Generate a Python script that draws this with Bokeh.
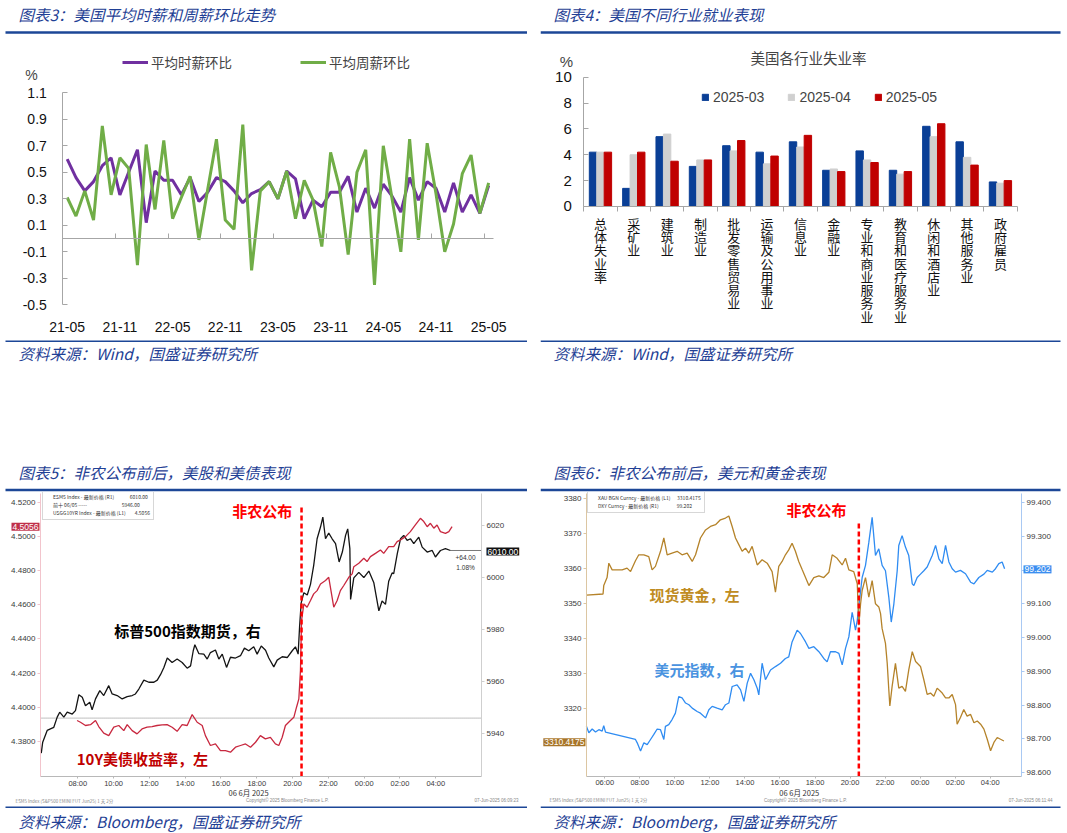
import numpy as np
from bokeh.plotting import figure
from bokeh.models import (Range1d, LinearAxis, FixedTicker, Label, Legend, LegendItem,
                          NumeralTickFormatter, Spacer)
from bokeh.layouts import column, row
from bokeh.embed import file_html
from bokeh.resources import INLINE
from bokeh.core.properties import value

CJK = "Noto Sans CJK SC"
LAT = "Liberation Sans"
NARROW = "'Liberation Sans Narrow', 'Liberation Sans', sans-serif"
HEAD_BLUE = "#1f3f95"
RULE_BLUE = "#1c4797"
WL, WR = 527, 522

# ---------------- data: chart 3 (monthly, 21-05 .. 25-05) ----------------
wage_tick_labels = ["21-05", "21-11", "22-05", "22-11", "23-05", "23-11", "24-05", "24-11", "25-05"]
hourly_mom = [0.60, 0.46, 0.36, 0.43, 0.55, 0.61, 0.33, 0.50, 0.67, 0.12, 0.51, 0.44,
              0.44, 0.33, 0.46, 0.28, 0.35, 0.46, 0.43, 0.36, 0.27, 0.34, 0.37, 0.43, 0.30,
              0.51, 0.45, 0.15, 0.29, 0.24, 0.35, 0.35, 0.47, 0.20, 0.38, 0.23, 0.41, 0.32,
              0.20, 0.46, 0.29, 0.43, 0.38, 0.20, 0.42, 0.20, 0.33, 0.19, 0.40]
weekly_mom = [0.31, 0.17, 0.36, 0.14, 0.85, 0.33, 0.61, 0.53, -0.20, 0.71, 0.22, 0.74,
              0.15, 0.31, 0.47, -0.01, 0.37, 0.75, 0.14, 0.07, 0.86, -0.24, 0.36, 0.43, 0.30,
              0.51, 0.15, 0.44, 0.29, -0.06, 0.65, 0.39, -0.12, 0.50, 0.67, -0.35, 0.70, 0.30,
              -0.10, 0.75, -0.01, 0.72, 0.34, -0.10, 0.11, 0.49, 0.63, 0.19, 0.42]

# ---------------- data: chart 4 ----------------
industries = ["总体失业率", "采矿业", "建筑业", "制造业", "批发零售贸易业", "运输及公用事业", "信息业",
              "金融业", "专业和商业服务业", "教育和医疗服务业", "休闲和酒店业", "其他服务业", "政府雇员"]
u_2025_03 = [4.2, 1.4, 5.4, 3.1, 4.7, 4.2, 5.0, 2.8, 4.3, 2.8, 6.2, 5.0, 1.9]
u_2025_04 = [4.2, 4.0, 5.6, 3.6, 4.3, 3.3, 4.6, 2.9, 3.6, 2.5, 5.4, 3.8, 1.8]
u_2025_05 = [4.2, 4.2, 3.5, 3.6, 5.1, 3.9, 5.5, 2.7, 3.4, 2.7, 6.4, 3.2, 2.0]

# ---------------- data: chart 5 (hours since 06-Jun 00:00, Beijing time) ----------------
nfp_hour = 20.5
spx_fut = [(5.96, 5932.6), (6.04, 5936.8), (6.29, 5941.3), (6.47, 5941.9), (6.66, 5942.5), (6.85, 5946.4),
           (6.99, 5948.3), (7.22, 5946.4), (7.41, 5948.3), (7.69, 5947.6), (7.87, 5948.9), (8.06, 5955.0),
           (8.25, 5954.0), (8.43, 5950.8), (8.67, 5952.1), (8.80, 5949.2), (8.99, 5953.4), (9.23, 5956.6),
           (9.45, 5954.7), (9.73, 5958.5), (9.92, 5955.3), (10.20, 5954.7), (10.48, 5953.4), (10.76, 5954.3),
           (11.04, 5954.7), (11.22, 5955.3), (11.41, 5957.2), (11.69, 5960.6), (11.97, 5959.8), (12.25, 5959.8),
           (12.44, 5960.6), (12.62, 5962.7), (12.81, 5965.5), (13.00, 5969.1), (13.27, 5967.4), (13.55, 5968.7),
           (13.83, 5967.4), (14.11, 5965.2), (14.30, 5966.1), (14.45, 5971.9), (14.54, 5974.2), (14.76, 5970.8),
           (15.04, 5970.6), (15.23, 5968.7), (15.41, 5971.2), (15.69, 5972.2), (15.88, 5968.7), (16.07, 5970.6),
           (16.31, 5965.5), (16.53, 5969.4), (16.81, 5969.1), (17.09, 5970.0), (17.31, 5972.9), (17.55, 5971.9),
           (17.83, 5973.4), (18.02, 5970.6), (18.25, 5973.7), (18.49, 5972.1), (18.67, 5969.1), (18.95, 5965.7),
           (19.14, 5968.3), (19.42, 5969.6), (19.70, 5969.3), (19.98, 5971.9), (20.16, 5973.4), (20.31, 5970.6),
           (20.39, 5981.0), (20.48, 5990.3), (20.63, 5994.2), (20.82, 5993.3), (21.00, 5997.4), (21.18, 6004.7),
           (21.37, 6014.9), (21.56, 6019.4), (21.69, 6023.2), (21.84, 6014.9), (22.02, 6017.1), (22.21, 6014.9),
           (22.40, 6013.0), (22.60, 6006.0), (22.78, 6009.8), (22.96, 6016.2), (23.08, 6018.7), (23.20, 6011.1),
           (23.24, 5991.6), (23.42, 5999.9), (23.70, 6002.0), (23.98, 6000.0), (24.26, 6002.5), (24.54, 5998.0),
           (24.82, 5987.2), (25.00, 5991.0), (25.19, 5989.7), (25.37, 5998.6), (25.56, 6001.8), (25.65, 6001.5),
           (25.85, 6009.2), (26.03, 6014.9), (26.21, 6016.2), (26.40, 6014.3), (26.59, 6014.9), (26.77, 6013.0),
           (27.05, 6015.5), (27.24, 6011.7), (27.52, 6009.8), (27.80, 6010.4), (27.98, 6007.9), (28.26, 6010.4),
           (28.54, 6011.1), (28.82, 6010.4)]
spx_prev_close = 5946.0
us10y = [(7.96, 4.3923), (8.15, 4.3913), (8.43, 4.3894), (8.71, 4.3899), (8.99, 4.3923), (9.17, 4.3888),
         (9.45, 4.3849), (9.73, 4.3835), (10.01, 4.3884), (10.29, 4.3894), (10.57, 4.3864), (10.76, 4.3899),
         (11.04, 4.3864), (11.31, 4.3845), (11.59, 4.3874), (11.87, 4.3884), (12.15, 4.3888), (12.43, 4.3894),
         (12.71, 4.3898), (12.99, 4.3899), (13.27, 4.3884), (13.55, 4.3860), (13.83, 4.3899), (14.11, 4.3894),
         (14.39, 4.3958), (14.67, 4.3913), (14.95, 4.3894), (15.13, 4.3835), (15.41, 4.3777), (15.69, 4.3786),
         (15.97, 4.3747), (16.25, 4.3747), (16.53, 4.3738), (16.81, 4.3767), (17.09, 4.3777), (17.37, 4.3786),
         (17.65, 4.3767), (17.93, 4.3796), (18.20, 4.3835), (18.48, 4.3816), (18.76, 4.3825), (19.04, 4.3786),
         (19.23, 4.3777), (19.42, 4.3825), (19.60, 4.3894), (19.88, 4.3923), (20.07, 4.3942), (20.22, 4.4001),
         (20.35, 4.4050), (20.44, 4.4215), (20.50, 4.4508), (20.63, 4.4605), (20.81, 4.4586), (21.00, 4.4625),
         (21.18, 4.4664), (21.37, 4.4683), (21.56, 4.4722), (21.84, 4.4742), (22.02, 4.4761), (22.30, 4.4586),
         (22.49, 4.4625), (22.67, 4.4683), (22.86, 4.4713), (23.14, 4.4761), (23.33, 4.4781), (23.42, 4.4823),
         (23.70, 4.4843), (23.98, 4.4872), (24.16, 4.4853), (24.35, 4.4882), (24.63, 4.4901), (24.91, 4.4921),
         (25.09, 4.4901), (25.37, 4.4940), (25.65, 4.4940), (25.84, 4.4970), (26.03, 4.4980), (26.31, 4.4999),
         (26.58, 4.5028), (26.86, 4.5067), (27.14, 4.5106), (27.33, 4.5087), (27.52, 4.5057), (27.70, 4.5077),
         (27.89, 4.5048), (28.07, 4.5067), (28.26, 4.5028), (28.54, 4.5018), (28.73, 4.5028), (28.91, 4.5057)]

# ---------------- data: chart 6 ----------------
gold_spot = [(4.95, 3352.5), (5.90, 3352.8), (5.94, 3355.2), (6.13, 3357.5), (6.23, 3361.6), (6.42, 3359.7),
             (6.70, 3359.7), (6.99, 3359.7), (7.27, 3360.2), (7.47, 3359.2), (7.75, 3362.3), (7.94, 3364.0),
             (8.23, 3364.0), (8.51, 3363.5), (8.70, 3359.7), (8.89, 3360.7), (9.18, 3365.0), (9.37, 3368.8),
             (9.56, 3364.0), (9.84, 3364.5), (10.13, 3365.0), (10.41, 3364.0), (10.70, 3364.5), (10.99, 3362.1),
             (11.18, 3364.0), (11.46, 3368.8), (11.75, 3371.1), (12.03, 3372.1), (12.32, 3372.6), (12.60, 3374.0),
             (12.89, 3374.5), (13.08, 3375.1), (13.27, 3372.1), (13.46, 3368.8), (13.65, 3366.9), (13.84, 3365.0),
             (14.03, 3365.9), (14.22, 3364.5), (14.41, 3366.4), (14.70, 3361.1), (14.98, 3362.6), (15.27, 3361.6),
             (15.55, 3359.2), (15.74, 3353.3), (15.93, 3360.7), (16.12, 3362.1), (16.31, 3364.0), (16.50, 3365.4),
             (16.69, 3367.3), (16.88, 3365.0), (17.07, 3362.1), (17.27, 3359.7), (17.65, 3355.2), (17.93, 3357.5),
             (18.22, 3358.0), (18.50, 3357.5), (18.79, 3359.0), (18.98, 3364.0), (19.26, 3363.0), (19.55, 3361.1),
             (19.74, 3363.0), (19.93, 3359.7), (20.21, 3359.2), (20.41, 3355.7), (20.50, 3343.9), (20.60, 3350.0),
             (20.69, 3353.8), (20.88, 3357.5), (21.07, 3351.9), (21.26, 3356.6), (21.45, 3350.0), (21.64, 3349.1),
             (21.74, 3347.2), (21.83, 3342.9), (22.02, 3338.7), (22.12, 3333.0), (22.21, 3325.5), (22.27, 3320.8),
             (22.40, 3326.4), (22.59, 3333.0), (22.78, 3325.9), (22.97, 3326.4), (23.16, 3325.0), (23.35, 3331.1),
             (23.55, 3336.3), (23.74, 3333.5), (24.02, 3332.1), (24.21, 3328.3), (24.40, 3324.1), (24.59, 3324.5),
             (24.78, 3323.6), (24.97, 3325.9), (25.26, 3324.5), (25.45, 3323.1), (25.64, 3323.1), (25.83, 3324.1),
             (26.02, 3321.2), (26.11, 3315.6), (26.30, 3317.5), (26.49, 3319.8), (26.68, 3317.9), (26.88, 3318.4),
             (27.07, 3316.0), (27.26, 3316.5), (27.45, 3315.6), (27.64, 3314.2), (27.83, 3311.3), (28.02, 3308.0),
             (28.21, 3310.4), (28.40, 3311.8), (28.59, 3311.3), (28.78, 3310.8)]
dxy_index = [(4.95, 98.737), (5.09, 98.718), (5.28, 98.729), (5.47, 98.720), (5.66, 98.727), (5.85, 98.723),
             (5.94, 98.739), (6.04, 98.720), (7.75, 98.698), (7.85, 98.688), (8.04, 98.664), (8.23, 98.688),
             (8.42, 98.683), (8.61, 98.698), (8.80, 98.713), (8.99, 98.729), (9.18, 98.727), (9.37, 98.698),
             (9.46, 98.737), (9.65, 98.742), (9.84, 98.757), (10.03, 98.776), (10.22, 98.825), (10.41, 98.821),
             (10.61, 98.806), (10.80, 98.801), (10.99, 98.791), (11.27, 98.781), (11.46, 98.776), (11.75, 98.762),
             (11.94, 98.786), (12.13, 98.796), (12.41, 98.791), (12.70, 98.786), (12.89, 98.801), (13.08, 98.806),
             (13.27, 98.855), (13.55, 98.860), (13.75, 98.845), (13.94, 98.811), (14.13, 98.865), (14.32, 98.894),
             (14.51, 98.875), (14.70, 98.850), (14.79, 98.830), (14.98, 98.924), (15.17, 98.875), (15.46, 98.904),
             (15.74, 98.914), (16.03, 98.924), (16.31, 98.938), (16.50, 98.943), (16.69, 98.987), (16.98, 99.022),
             (17.17, 99.012), (17.46, 98.987), (17.65, 98.968), (17.93, 98.973), (18.22, 98.958), (18.50, 98.938),
             (18.69, 98.928), (18.88, 98.958), (19.17, 98.958), (19.36, 98.953), (19.55, 98.919), (19.74, 98.968),
             (19.93, 99.002), (20.12, 99.075), (20.31, 99.022), (20.41, 99.051), (20.56, 99.120), (20.69, 99.178),
             (20.88, 99.214), (21.07, 99.282), (21.26, 99.356), (21.45, 99.243), (21.64, 99.263), (21.83, 99.214),
             (22.02, 99.198), (22.21, 99.120), (22.35, 99.046), (22.50, 99.100), (22.69, 99.198), (22.78, 99.273),
             (22.97, 99.302), (23.16, 99.268), (23.35, 99.243), (23.55, 99.159), (23.64, 99.154), (23.83, 99.178),
             (24.02, 99.188), (24.21, 99.198), (24.40, 99.209), (24.69, 99.243), (24.88, 99.273), (25.07, 99.233),
             (25.26, 99.219), (25.45, 99.273), (25.64, 99.224), (25.83, 99.204), (26.02, 99.194), (26.30, 99.199),
             (26.59, 99.189), (26.88, 99.164), (27.07, 99.159), (27.35, 99.178), (27.64, 99.188), (27.83, 99.199),
             (28.12, 99.194), (28.30, 99.204), (28.49, 99.219), (28.68, 99.224), (28.82, 99.204)]


# ---------------- helpers ----------------
def base_fig(w, h, xr, yr):
    p = figure(width=w, height=h, x_range=Range1d(*xr), y_range=Range1d(*yr),
               output_backend="svg", toolbar_location=None, min_border=0, title=None)
    p.grid.visible = False
    p.outline_line_color = None
    return p


def strip(w, h):
    p = figure(width=w, height=h, x_range=Range1d(0, w), y_range=Range1d(0, h),
               x_axis_type=None, y_axis_type=None, output_backend="svg",
               toolbar_location=None, min_border=0, title=None)
    p.outline_line_color = None
    return p


def header(text, w, h, tx, text_top, rule_top, r0, r1):
    p = strip(w, h)
    p.add_layout(Label(x=tx, y=h - text_top, text=text, text_font=CJK, text_font_style="italic",
                       text_font_size="15.5px", text_color=HEAD_BLUE, text_baseline="middle"))
    p.segment(x0=[r0], y0=[h - rule_top], x1=[r1], y1=[h - rule_top], line_color=RULE_BLUE, line_width=2.6)
    return p


def source(text, w, h, tx, rule_top, text_top, r0, r1):
    p = strip(w, h)
    p.segment(x0=[r0], y0=[h - rule_top], x1=[r1], y1=[h - rule_top], line_color=RULE_BLUE, line_width=1.6)
    p.add_layout(Label(x=tx, y=h - text_top, text=text, text_font=CJK, text_font_style="italic",
                       text_font_size="15.5px", text_color=HEAD_BLUE, text_baseline="middle"))
    return p


# ---------------- chart 3 ----------------
x_month = np.arange(len(hourly_mom))
p3 = base_fig(WL, 304, (-7.597, 52.426), (-0.754, 1.540))
ya = p3.yaxis[0]
ya.fixed_location = -0.5
ya.bounds = (-0.5, 1.1)
ya.ticker = FixedTicker(ticks=[-0.5, -0.3, -0.1, 0.1, 0.3, 0.5, 0.7, 0.9, 1.1])
ya.formatter = NumeralTickFormatter(format="0.0")
ya.axis_line_color = "#a6a6a6"
ya.major_tick_line_color = "#a6a6a6"
ya.major_tick_in = 5
ya.major_tick_out = 0
ya.minor_tick_line_color = None
ya.major_label_standoff = 16
ya.major_label_text_font = LAT
ya.major_label_text_font_size = "14px"
ya.major_label_text_color = "#111111"
xa = p3.xaxis[0]
xa.fixed_location = -0.5
xa.ticker = FixedTicker(ticks=list(range(0, 49, 6)))
xa.major_label_overrides = {6 * i: lab for i, lab in enumerate(wage_tick_labels)}
xa.axis_line_color = None
xa.major_tick_line_color = None
xa.minor_tick_line_color = None
xa.major_label_standoff = 11
xa.major_label_text_font = LAT
xa.major_label_text_font_size = "14px"
xa.major_label_text_color = "#111111"
zero_ticks = [6 * i - 0.5 for i in range(9)]
zax = LinearAxis(fixed_location=0, bounds=(-0.5, 48.5), ticker=FixedTicker(ticks=zero_ticks),
                 major_label_overrides={t: "" for t in zero_ticks},
                 major_tick_in=5, major_tick_out=0, axis_line_color="#a6a6a6",
                 major_tick_line_color="#a6a6a6", minor_tick_line_color=None)
p3.add_layout(zax, "below")
r_h = p3.line(x_month, hourly_mom, line_color="#7030a0", line_width=3)
r_w = p3.line(x_month, weekly_mom, line_color="#70ad47", line_width=3)
leg3 = Legend(items=[LegendItem(label="平均时薪环比", renderers=[r_h]),
                     LegendItem(label="平均周薪环比", renderers=[r_w])],
              orientation="horizontal", location=(122, 266), glyph_width=26, glyph_height=10,
              label_standoff=3, spacing=68, padding=0, margin=0, border_line_color=None,
              background_fill_alpha=0, label_text_font=CJK, label_text_font_size="13.5px")
p3.add_layout(leg3)
p3.add_layout(Label(x=-4.07, y=1.238, text="%", text_font=LAT, text_font_size="14px",
                    text_align="center", text_baseline="middle"))

# ---------------- chart 4 ----------------
px_per_u4 = 12.93
cat_x = np.arange(len(industries)) + 0.5
bw = 0.223
p4 = base_fig(WR, 304, (-1.299, 14.362), (-10.21, 13.30))
ya4 = p4.yaxis[0]
ya4.fixed_location = 0
ya4.bounds = (0, 10)
ya4.ticker = FixedTicker(ticks=[0, 2, 4, 6, 8, 10])
ya4.axis_line_color = "#a6a6a6"
ya4.major_tick_line_color = "#a6a6a6"
ya4.major_tick_in = 5
ya4.major_tick_out = 0
ya4.minor_tick_line_color = None
ya4.major_label_standoff = 12
ya4.major_label_text_font = LAT
ya4.major_label_text_font_size = "15px"
ya4.major_label_text_color = "#111111"
xa4 = p4.xaxis[0]
xa4.fixed_location = 0
xa4.bounds = (0, len(industries))
xa4.ticker = FixedTicker(ticks=[], minor_ticks=list(range(len(industries) + 1)))
xa4.axis_line_color = "#a6a6a6"
xa4.major_tick_line_color = None
xa4.minor_tick_line_color = "#a6a6a6"
xa4.minor_tick_out = 5
xa4.minor_tick_in = 0
b1 = p4.vbar(x=cat_x - bw, top=u_2025_03, width=bw, fill_color="#0a3f96", line_color="#0a3f96")
b2 = p4.vbar(x=cat_x, top=u_2025_04, width=bw, fill_color="#d0d0d0", line_color="#d0d0d0")
b3 = p4.vbar(x=cat_x + bw, top=u_2025_05, width=bw, fill_color="#c00000", line_color="#c00000")
# stacked (vertical) category names under the axis
ch_x, ch_y, ch_t = [], [], []
for c, name in zip(cat_x, industries):
    for k, ch in enumerate(name):
        ch_x.append(c)
        ch_y.append(-(16.7 + 13.3 * k) / px_per_u4)
        ch_t.append(ch)
p4.text(x=ch_x, y=ch_y, text=ch_t, text_font=value(CJK), text_font_size=value("13px"),
        text_align="center", text_baseline="middle", text_color="#111111")
leg4 = Legend(items=[LegendItem(label="2025-03", renderers=[b1]),
                     LegendItem(label="2025-04", renderers=[b2]),
                     LegendItem(label="2025-05", renderers=[b3])],
              orientation="horizontal", location=(161, 233), glyph_width=8, glyph_height=8,
              label_standoff=4, spacing=23, padding=0, margin=0, border_line_color=None,
              background_fill_alpha=0, label_text_font=LAT, label_text_font_size="14px")
p4.add_layout(leg4)
p4.add_layout(Label(x=6.74, y=11.55, text="美国各行业失业率", text_font=CJK, text_font_size="14.5px",
                    text_align="center", text_baseline="middle"))
p4.add_layout(Label(x=-0.52, y=11.24, text="%", text_font=LAT, text_font_size="15px",
                    text_align="center", text_baseline="middle"))


# ---------------- Bloomberg-style charts ----------------
def style_axis(ax, color, size="8px", tick_out=3, standoff=2):
    ax.axis_line_color = color
    ax.major_tick_line_color = color
    ax.major_tick_out = tick_out
    ax.major_tick_in = 0
    ax.minor_tick_line_color = None
    ax.major_label_standoff = standoff
    ax.major_label_text_font = NARROW
    ax.major_label_text_font_size = size
    ax.major_label_text_color = "#3a3a3a"


def bbg_axes(p, xb, yb, extra_name, eb, lticks, lfmt, lcol, rticks, rfmt, rcol, tticks):
    la = p.yaxis[0]
    la.fixed_location = xb[0]
    la.bounds = yb
    la.ticker = FixedTicker(ticks=lticks)
    la.formatter = NumeralTickFormatter(format=lfmt)
    style_axis(la, lcol)
    ra = LinearAxis(y_range_name=extra_name, fixed_location=xb[1], bounds=eb,
                    ticker=FixedTicker(ticks=rticks), formatter=NumeralTickFormatter(format=rfmt))
    style_axis(ra, rcol)
    p.add_layout(ra, "right")
    ba = p.xaxis[0]
    ba.fixed_location = yb[0]
    ba.bounds = xb
    ba.ticker = FixedTicker(ticks=tticks)
    ba.major_label_overrides = {t: "%02d:00" % (t % 24) for t in tticks}
    style_axis(ba, "#b8b8b8", "7.5px", tick_out=2, standoff=0)


def tiny_legend(p, entries, loc):
    items = []
    for lab_text, col in entries:
        r = p.scatter([], [], marker="square", color=col)
        items.append(LegendItem(label=lab_text, renderers=[r]))
    leg = Legend(items=items, location=loc, margin=0, padding=3, glyph_width=5, glyph_height=5,
                 label_height=6, spacing=1, label_standoff=2, border_line_color="#b0b0b0",
                 background_fill_color="white", background_fill_alpha=0.9, label_text_font=CJK,
                 label_text_font_size="5px", label_text_color="#333333")
    p.add_layout(leg)


def lab(p, x, y, text, size, color, bold=False, align="center", font=CJK, **kw):
    p.add_layout(Label(x=x, y=y, text=text, text_font=font, text_font_style="bold" if bold else "normal",
                       text_font_size=size, text_color=color, text_align=align, text_baseline="middle", **kw))


NB = "\u00a0"

# chart 5
xb5 = (5.916, 30.553)       # plot-area time bounds
yb5 = (4.3595, 4.5251)      # plot-area yield bounds
sb5 = (5923.6, 6032.3)      # plot-area S&P bounds
p5 = base_fig(WL, 313, (3.682, 33.124), (4.3426, 4.5257))
p5.extra_y_ranges = {"sp": Range1d(5912.47, 6032.67)}
bbg_axes(p5, xb5, yb5, "sp", sb5, [4.38, 4.40, 4.42, 4.44, 4.46, 4.48, 4.50, 4.52], "0.0000", "#f2c4cc",
         [5940, 5960, 5980, 6000, 6020], "0", "#cfcfcf", list(range(8, 29, 2)))
sp_h, sp_v = zip(*spx_fut)
y_h, y_v = zip(*us10y)
p5.segment(x0=[xb5[0]], y0=[spx_prev_close], x1=[xb5[1]], y1=[spx_prev_close], y_range_name="sp",
           line_color="#9a9a9a", line_dash="1 1", line_width=1.2)
p5.segment(x0=[sp_h[-1]], y0=[sp_v[-1]], x1=[xb5[1]], y1=[sp_v[-1]], y_range_name="sp",
           line_color="#555555", line_width=0.8)
p5.line(sp_h, sp_v, y_range_name="sp", line_color="#141414", line_width=1.3)
p5.line(y_h, y_v, line_color="#c8283f", line_width=1.3)
p5.segment(x0=[nfp_hour], y0=[yb5[0]], x1=[nfp_hour], y1=[4.518], line_color="#ff0000",
           line_width=2.5, line_dash="5 3")
tiny_legend(p5, [("ESM5 Index - 最新价格 (R1)" + NB * 14 + "6010.00", "#141414"),
                 ("前十 06/05 -----" + NB * 31 + "5946.00", "#141414"),
                 ("USGG10YR Index - 最新价格 (L1)" + NB * 8 + "4.5056", "#c8283f")], (42, 285))
lab(p5, 18.3, 4.5151, "非农公布", "15px", "#ff0000", bold=True)
lab(p5, 14.13, 4.445, "标普500指数期货，右", "15px", "#000000", bold=True)
lab(p5, 11.61, 4.370, "10Y美债收益率，左", "15px", "#c00000", bold=True)
lab(p5, xb5[0], 4.5056, "4.5056", "8.5px", "white", align="right", font=NARROW, x_offset=-1,
    background_fill_color="#c0304a", padding=1)
lab(p5, xb5[1], 6010.0, "6010.00", "8.5px", "white", align="left", font=NARROW, x_offset=5,
    y_range_name="sp", background_fill_color="#111111", padding=1)
lab(p5, 29.1, 6007.6, "+64.00", "6.5px", "#333333", align="left", font=NARROW, y_range_name="sp")
lab(p5, 29.15, 6003.8, "1.08%", "6.5px", "#333333", align="left", font=NARROW, y_range_name="sp")
lab(p5, 17.54, 4.3502, "06 6月 2025", "7.5px", "#333333")
lab(p5, 4.52, 4.3455, "ESM5 Index (S&P500 EMINI FUT Jun25) 1 天 2分", "4.5px", "#888888", align="left")
lab(p5, 19.71, 4.3455, "Copyright© 2025 Bloomberg Finance L.P.", "4.5px", "#888888", font=LAT)
lab(p5, 32.62, 4.3455, "07-Jun-2025 06:09:23", "4.5px", "#888888", align="right", font=LAT)

# chart 6
xb6 = (4.955, 29.784)
yb6 = (3300.66, 3381.51)
db6 = (98.5883, 99.4268)
p6 = base_fig(WR, 313, (2.330, 32.125), (3292.37, 3381.8))
p6.extra_y_ranges = {"dxy": Range1d(98.5024, 99.4298)}
bbg_axes(p6, xb6, yb6, "dxy", db6, [3320, 3330, 3340, 3350, 3360, 3370, 3380], "0", "#dcc6a2",
         [98.6, 98.7, 98.8, 98.9, 99.0, 99.1, 99.2, 99.3, 99.4], "0.000", "#a9c9f3", list(range(6, 29, 2)))
g_h, g_v = zip(*gold_spot)
d_h, d_v = zip(*dxy_index)
p6.line(d_h, d_v, y_range_name="dxy", line_color="#2f8cf2", line_width=1.3)
p6.line(g_h, g_v, line_color="#b5832a", line_width=1.3)
p6.segment(x0=[nfp_hour], y0=[yb6[0]], x1=[nfp_hour], y1=[3373.8], line_color="#ff0000",
           line_width=2.5, line_dash="5 3")
tiny_legend(p6, [("XAU BGN Curncy - 最新价格 (L1)" + NB * 6 + "3310.4175", "#b5832a"),
                 ("DXY Curncy - 最新价格 (R1)" + NB * 16 + "99.202", "#2f8cf2")], (47, 292))
lab(p6, 18.08, 3376.9, "非农公布", "15px", "#ff0000", bold=True)
lab(p6, 11.12, 3352.7, "现货黄金，左", "15px", "#bf8c22", bold=True)
lab(p6, 11.4, 3331.2, "美元指数，右", "15px", "#4a93e0", bold=True)
lab(p6, xb6[0], 3310.4175, "3310.4175", "8.5px", "white", align="right", font=NARROW, x_offset=-1,
    background_fill_color="#a87528", padding=1)
lab(p6, xb6[1], 99.202, "99.202", "8.5px", "white", align="left", font=NARROW, x_offset=2,
    y_range_name="dxy", background_fill_color="#3b8ef0", padding=1)
lab(p6, 17.1, 3296.1, "06 6月 2025", "7.5px", "#333333")
lab(p6, 2.844, 3293.8, "ESM5 Index (S&P500 EMINI FUT Jun25) 1 天 2分", "4.5px", "#888888", align="left")
lab(p6, 17.455, 3293.8, "Copyright© 2025 Bloomberg Finance L.P.", "4.5px", "#888888", font=LAT)
lab(p6, 31.554, 3293.8, "07-Jun-2025 06:11:44", "4.5px", "#888888", align="right", font=LAT)

# ---------------- layout ----------------
h3 = header("图表3：美国平均时薪和周薪环比走势", WL, 34, 18, 13, 32, 5, WL)
s3 = source("资料来源：Wind，国盛证券研究所", WL, 27, 18, 2.7, 14, 5, WL)
h5 = header("图表5：非农公布前后，美股和美债表现", WL, 35, 18, 14, 32.5, 5, WL)
s5 = source("资料来源：Bloomberg，国盛证券研究所", WL, 27, 18, 1.7, 15, 5, WL)
h4 = header("图表4：美国不同行业就业表现", WR, 34, 13, 13, 32, 0, 520)
s4 = source("资料来源：Wind，国盛证券研究所", WR, 27, 13, 2.7, 14, 0, 520)
h6 = header("图表6：非农公布前后，美元和黄金表现", WR, 35, 13, 14, 32.5, 0, 520)
s6 = source("资料来源：Bloomberg，国盛证券研究所", WR, 27, 13, 1.7, 15, 0, 520)

left = column(h3, p3, s3, Spacer(width=WL, height=92), h5, p5, s5)
right = column(h4, p4, s4, Spacer(width=WR, height=92), h6, p6, s6)
page = row(left, Spacer(width=13, height=10), right)

open("out.html", "w").write(file_html(page, INLINE))
